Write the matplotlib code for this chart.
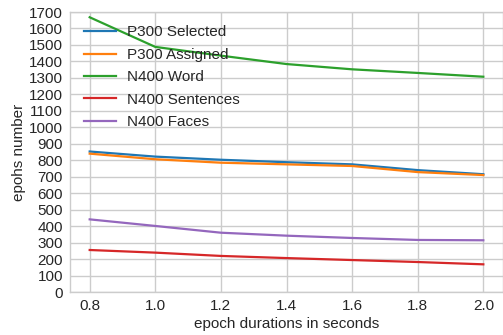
import matplotlib
matplotlib.use("Agg")
from matplotlib import pyplot as plt

durations = [0.8, 1.0, 1.2, 1.4, 1.6, 1.8, 2.0]
p300_selected = [853, 822, 803, 788, 775, 740, 715]
p300_assigned = [840, 806, 785, 775, 765, 728, 710]
n400_word = [1668, 1488, 1435, 1384, 1352, 1330, 1307]
n400_sentences = [255, 239, 219, 206, 194, 182, 168]
n400_faces = [441, 401, 360, 342, 328, 316, 314]

series = [
    ("P300 Selected", p300_selected, "#1f77b4"),
    ("P300 Assigned", p300_assigned, "#ff7f0e"),
    ("N400 Word", n400_word, "#2ca02c"),
    ("N400 Sentences", n400_sentences, "#d62728"),
    ("N400 Faces", n400_faces, "#9467bd"),
]

plt.rcParams["font.family"] = ["Liberation Sans", "DejaVu Sans"]
plt.rcParams["font.size"] = 11
plt.rcParams["text.color"] = "#262626"
plt.rcParams["axes.labelcolor"] = "#262626"
plt.rcParams["xtick.color"] = "#262626"
plt.rcParams["ytick.color"] = "#262626"


def main():
    fig = plt.figure(figsize=(5.03, 3.35), dpi=100)
    ax = fig.add_axes([70 / 503, 1 - 292 / 335, 433 / 503, 280 / 335])

    for name, values, color in series:
        ax.plot(durations, values, color=color, linewidth=1.6, label=name)

    ax.set_xlim(0.74, 2.06)
    ax.set_ylim(0, 1700)
    ax.set_xticks(durations)
    ax.set_xticklabels(["%.1f" % d for d in durations])
    ax.set_yticks(range(0, 1701, 100))

    ax.grid(True, color="#cccccc", linewidth=1.0)
    ax.set_axisbelow(True)
    for s in ax.spines.values():
        s.set_color("#cccccc")
        s.set_linewidth(1.0)
    ax.tick_params(length=0, pad=5, labelsize=11)

    ax.set_xlabel("epoch durations in seconds", fontsize=11, labelpad=3)
    ax.set_ylabel("epohs number", fontsize=11, labelpad=2)

    ax.legend(loc="upper left", frameon=False, fontsize=11,
              handlelength=2.1, handletextpad=0.7, labelspacing=0.55,
              borderaxespad=0.3, bbox_to_anchor=(0.007, 0.99))

    fig.savefig("out.png", dpi=100)


if __name__ == "__main__":
    main()
